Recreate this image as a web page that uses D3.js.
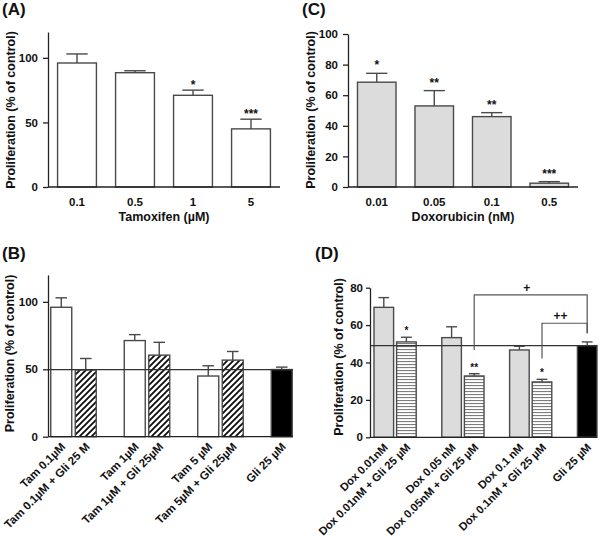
<!DOCTYPE html>
<html><head><meta charset="utf-8">
<script src="https://cdn.jsdelivr.net/npm/d3@7"></script>
<style>
body{margin:0;background:#fff}
svg{display:block}
text{font-family:"Liberation Sans",Arial,sans-serif;font-weight:bold;fill:#111}
</style>
</head><body><svg id="c" width="600" height="538"></svg>
<script>
// ---------- DATA ----------
// Panel A: Tamoxifen
const tamDoses = ["0.1", "0.5", "1", "5"];
const tamMeans = [96, 88.5, 71, 45];
const tamErrTop = [103, 90, 75, 52.5];
const tamStars = ["", "", "*", "***"];
const tamTicks = [0, 50, 100];

// Panel C: Doxorubicin
const doxDoses = ["0.01", "0.05", "0.1", "0.5"];
const doxMeans = [68.5, 53, 46, 2.5];
const doxErrTop = [74.3, 63, 48.6, 3.5];
const doxStars = ["*", "**", "**", "***"];
const doxTicks = [0, 20, 40, 60, 80, 100];

// Panel B: Tamoxifen + Gli
const bLabels = ["Tam 0.1µM", "Tam 0.1µM + Gli 25 M", "Tam 1µM", "Tam 1µM + Gli 25µM", "Tam 5 µM", "Tam 5µM + Gli 25µM", "Gli 25 µM"];
const bTypes = ["drug", "combo", "drug", "combo", "drug", "combo", "gli"];
const bGroups = [0, 0, 1, 1, 2, 2, 3];
const bMeans = [96, 49.5, 71.3, 60.5, 45, 56.8, 49.8];
const bErrTop = [103, 58, 75.7, 70, 52.6, 63.2, 51.6];
const bTicks = [0, 50, 100];

// Panel D: Doxorubicin + Gli
const dLabels = ["Dox 0.01nM", "Dox 0.01nM + Gli 25 µM", "Dox 0.05 nM", "Dox 0.05nM + Gli 25 µM", "Dox 0.1 nM", "Dox 0.1nM + Gli 25 µM", "Gli 25 µM"];
const dTypes = ["drug", "combo", "drug", "combo", "drug", "combo", "gli"];
const dGroups = [0, 0, 1, 1, 2, 2, 3];
const dMeans = [69.5, 51, 53.3, 32.8, 46.7, 29.6, 49];
const dErrTop = [74.7, 53.5, 59.1, 34, 48.7, 31, 51];
const dStars = ["", "*", "", "**", "", "*", ""];
const dTicks = [0, 20, 40, 60, 80];

// Panel D comparison brackets (values in % units)
const brFrom = [3, 5];
const brTo = [6, 6];
const brTop = [76.2, 61];
const brFromBottom = [46.7, 42.2];
const brToBottom = [55.6, 55.6];
const brLabels = ["+", "++"];

// ---------- DRAW ----------
const svg = d3.select("#c");
svg.append("rect").attr("width", 600).attr("height", 538).attr("fill", "#fff");

const defs = svg.append("defs");
const hatch = defs.append("pattern").attr("id", "hatch").attr("patternUnits", "userSpaceOnUse")
  .attr("width", 6).attr("height", 6);
hatch.append("rect").attr("width", 6).attr("height", 6).attr("fill", "#fff");
hatch.append("path").attr("d", "M-1.5,1.5 L1.5,-1.5 M0,6 L6,0 M4.5,7.5 L7.5,4.5")
  .attr("stroke", "#111").attr("stroke-width", 1.9);
const stripes = defs.append("pattern").attr("id", "stripes").attr("patternUnits", "userSpaceOnUse")
  .attr("width", 6).attr("height", 3);
stripes.append("rect").attr("width", 6).attr("height", 3).attr("fill", "#fff");
stripes.append("rect").attr("y", 1).attr("width", 6).attr("height", 1.1).attr("fill", "#7d7d7d");

const BAR_STROKE = "#4a4a4a";
const GRAY = "#dcdcdc";

function panelLabel(txt, x, y) {
  svg.append("text").attr("x", x).attr("y", y).attr("font-size", 17).text(txt);
}
function yTitle(cx, cy) {
  svg.append("text").attr("transform", `translate(${cx},${cy}) rotate(-90)`)
    .attr("text-anchor", "middle").attr("font-size", 12.5).text("Proliferation (% of control)");
}
function yAxis(y, x0, ticks, size, pad) {
  const g = svg.append("g").attr("transform", `translate(${x0},0)`)
    .call(d3.axisLeft(y).tickValues(ticks).tickSize(size).tickPadding(pad).tickSizeOuter(0));
  g.select(".domain").attr("stroke", "#222").attr("stroke-width", 1.3);
  g.selectAll(".tick line").attr("stroke", "#222").attr("stroke-width", 1.3);
  g.selectAll(".tick text").attr("font-size", 11.5).attr("font-family", "Liberation Sans, Arial, sans-serif")
    .attr("font-weight", "bold").attr("fill", "#111");
  return g;
}
function xLine(x0, x1, yy) {
  svg.append("line").attr("x1", x0).attr("x2", x1).attr("y1", yy).attr("y2", yy)
    .attr("stroke", "#222").attr("stroke-width", 1.3);
}
function bars(keys, means, errTop, x, y, fills, capFrac) {
  const g = svg.append("g");
  keys.forEach((k, i) => {
    const bx = x(k), bw = x.bandwidth();
    g.append("rect").attr("x", bx).attr("y", y(means[i])).attr("width", bw)
      .attr("height", y(0) - y(means[i])).attr("fill", fills[i])
      .attr("stroke", BAR_STROKE).attr("stroke-width", 1.4);
    const cx = bx + bw / 2, cw = bw * capFrac;
    g.append("line").attr("x1", cx).attr("x2", cx).attr("y1", y(means[i])).attr("y2", y(errTop[i]))
      .attr("stroke", BAR_STROKE).attr("stroke-width", 1.4);
    g.append("line").attr("x1", cx - cw / 2).attr("x2", cx + cw / 2).attr("y1", y(errTop[i])).attr("y2", y(errTop[i]))
      .attr("stroke", BAR_STROKE).attr("stroke-width", 1.4);
  });
}
function stars(keys, labels, errTop, x, y, fs, lift) {
  keys.forEach((k, i) => {
    if (!labels[i]) return;
    svg.append("text").attr("x", x(k) + x.bandwidth() / 2).attr("y", y(errTop[i]) - lift)
      .attr("text-anchor", "middle").attr("font-size", fs).text(labels[i]);
  });
}
function slotDomain(labels, groups) {
  const dom = [];
  labels.forEach((l, i) => {
    if (i > 0 && groups[i] !== groups[i - 1]) dom.push("gap" + i);
    dom.push(l);
  });
  return dom;
}
function rotLabels(keys, x, axisY, fs) {
  keys.forEach(k => {
    const cx = x(k) + x.bandwidth() / 2;
    svg.append("text").attr("transform", `translate(${cx + 2},${axisY + 8}) rotate(-45)`)
      .attr("text-anchor", "end").attr("dy", "0.35em").attr("font-size", fs).text(k);
  });
}

// ---------- Panel A ----------
{
  const x = d3.scaleBand().domain(tamDoses).range([48, 280]).paddingInner(0.33).paddingOuter(0.165);
  const y = d3.scaleLinear().domain([0, 120]).range([187, 32]);
  bars(tamDoses, tamMeans, tamErrTop, x, y, tamDoses.map(() => "#fff"), 0.55);
  yAxis(y, 48, tamTicks, 5, 5);
  xLine(48, 280, y(0));
  const gx = svg.append("g").attr("transform", `translate(0,${y(0)})`)
    .call(d3.axisBottom(x).tickSize(0).tickPadding(11));
  gx.select(".domain").remove();
  gx.selectAll("text").attr("font-size", 11.5).attr("font-family", "Liberation Sans, Arial, sans-serif").attr("font-weight", "bold").attr("fill", "#111");
  stars(tamDoses, tamStars, tamErrTop, x, y, 12, 1);
  svg.append("text").attr("x", 164).attr("y", 221).attr("text-anchor", "middle").attr("font-size", 12.5).text("Tamoxifen (µM)");
  yTitle(14.5, 110);
  panelLabel("(A)", 2, 14.5);
}

// ---------- Panel C ----------
{
  const x = d3.scaleBand().domain(doxDoses).range([348, 578]).paddingInner(0.33).paddingOuter(0.165);
  const y = d3.scaleLinear().domain([0, 100]).range([187, 34]);
  bars(doxDoses, doxMeans, doxErrTop, x, y, doxDoses.map(() => GRAY), 0.55);
  yAxis(y, 348, doxTicks, 5, 5);
  xLine(348, 578, y(0));
  const gx = svg.append("g").attr("transform", `translate(0,${y(0)})`)
    .call(d3.axisBottom(x).tickSize(0).tickPadding(11));
  gx.select(".domain").remove();
  gx.selectAll("text").attr("font-size", 11.5).attr("font-family", "Liberation Sans, Arial, sans-serif").attr("font-weight", "bold").attr("fill", "#111");
  stars(doxDoses, doxStars, doxErrTop, x, y, 12, 4);
  svg.append("text").attr("x", 463).attr("y", 221).attr("text-anchor", "middle").attr("font-size", 12.5).text("Doxorubicin (nM)");
  yTitle(315, 110);
  panelLabel("(C)", 302, 14.5);
}

// ---------- Panel B ----------
{
  const x = d3.scaleBand().domain(slotDomain(bLabels, bGroups)).range([49, 294]).paddingInner(0.143).paddingOuter(0.0715);
  const y = d3.scaleLinear().domain([0, 120]).range([436.7, 274.9]);
  const fills = bTypes.map(t => t === "drug" ? "#fff" : t === "combo" ? "url(#hatch)" : "#000");
  bars(bLabels, bMeans, bErrTop, x, y, fills, 0.55);
  const gliIdx = bTypes.indexOf("gli");
  svg.append("line").attr("x1", 48).attr("x2", 293).attr("y1", y(bMeans[gliIdx])).attr("y2", y(bMeans[gliIdx]))
    .attr("stroke", "#333").attr("stroke-width", 1.2);
  yAxis(y, 48, bTicks, 5, 5);
  xLine(48, 293, y(0));
  rotLabels(bLabels, x, y(0), 11.5);
  yTitle(14, 353.5);
  panelLabel("(B)", 2, 258.5);
}

// ---------- Panel D ----------
{
  const x = d3.scaleBand().domain(slotDomain(dLabels, dGroups)).range([372.5, 598.5]).paddingInner(0.133).paddingOuter(0.0665);
  const y = d3.scaleLinear().domain([0, 80]).range([437.3, 287.7]);
  const fills = dTypes.map(t => t === "drug" ? GRAY : t === "combo" ? "url(#stripes)" : "#000");
  bars(dLabels, dMeans, dErrTop, x, y, fills, 0.55);
  const gliIdx = dTypes.indexOf("gli");
  svg.append("line").attr("x1", 370).attr("x2", 597).attr("y1", y(dMeans[gliIdx])).attr("y2", y(dMeans[gliIdx]))
    .attr("stroke", "#333").attr("stroke-width", 1.2);
  yAxis(y, 370, dTicks, 4, 3);
  xLine(370, 597, y(0));
  rotLabels(dLabels, x, y(0), 11.2);
  stars(dLabels, dStars, dErrTop, x, y, 10, 3);
  // brackets
  brFrom.forEach((f, i) => {
    const xa = x(dLabels[f]) + x.bandwidth() / 2;
    const xb = x(dLabels[brTo[i]]) + x.bandwidth() / 2;
    const yt = y(brTop[i]);
    svg.append("path")
      .attr("d", `M${xa},${y(brFromBottom[i])} V${yt} H${xb} V${y(brToBottom[i])}`)
      .attr("fill", "none").attr("stroke", "#555").attr("stroke-width", 1.2);
    svg.append("text").attr("x", (xa + xb) / 2 - 4).attr("y", yt - 3.3)
      .attr("text-anchor", "middle").attr("font-size", 12).text(brLabels[i]);
  });
  yTitle(343, 357);
  panelLabel("(D)", 315, 258.5);
}
</script>
</body></html>
